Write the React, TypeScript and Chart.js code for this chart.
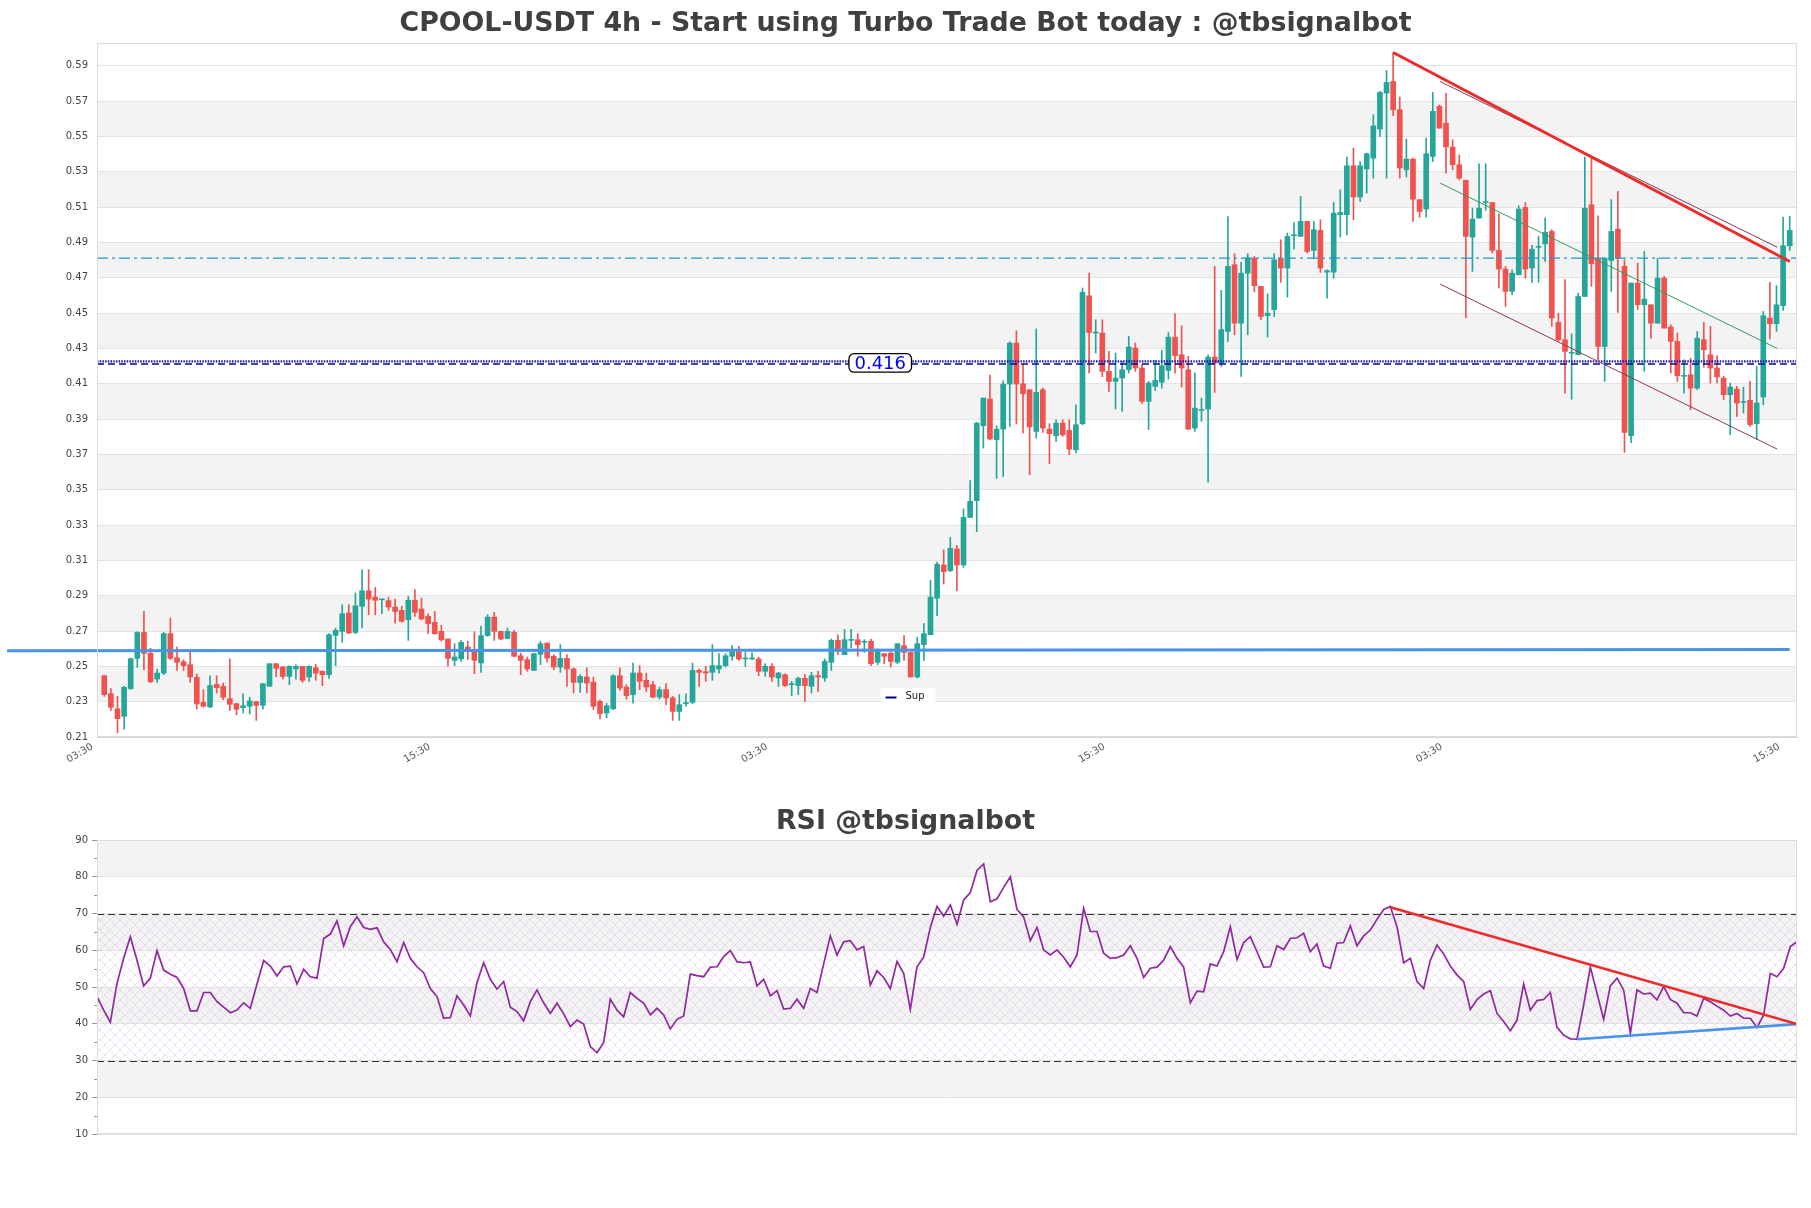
import React, { useEffect, useRef } from 'react';
import { Chart, registerables } from 'chart.js';

Chart.register(...registerables);

// ---------- candle data (4h) ----------
const OPEN = [
  0.2447, 0.2345, 0.2260, 0.2217, 0.2374, 0.2545, 0.2692, 0.2574, 0.2428, 0.2462,
  0.2685, 0.2549, 0.2526, 0.2509, 0.2438, 0.2296, 0.2270, 0.2398, 0.2387, 0.2317,
  0.2289, 0.2266, 0.2274, 0.2300, 0.2279, 0.2387, 0.2515, 0.2496, 0.2443, 0.2485,
  0.2500, 0.2440, 0.2492, 0.2472, 0.2453, 0.2675, 0.2698, 0.2802, 0.2692, 0.2840,
  0.2928, 0.2892, 0.2877, 0.2872, 0.2836, 0.2817, 0.2764, 0.2874, 0.2825, 0.2783,
  0.2749, 0.2698, 0.2655, 0.2534, 0.2542, 0.2609, 0.2591, 0.2519, 0.2674, 0.2779,
  0.2698, 0.2658, 0.2692, 0.2560, 0.2538, 0.2477, 0.2568, 0.2632, 0.2557, 0.2496,
  0.2545, 0.2485, 0.2409, 0.2440, 0.2411, 0.2302, 0.2236, 0.2260, 0.2447, 0.2383,
  0.2340, 0.2462, 0.2421, 0.2396, 0.2326, 0.2368, 0.2321, 0.2245, 0.2289, 0.2296,
  0.2477, 0.2470, 0.2466, 0.2485, 0.2504, 0.2557, 0.2583, 0.2542, 0.2542, 0.2542,
  0.2472, 0.2500, 0.2434, 0.2453, 0.2396, 0.2391, 0.2432, 0.2387, 0.2447, 0.2434,
  0.2523, 0.2647, 0.2566, 0.2647, 0.2651, 0.2636, 0.2642, 0.2523, 0.2572, 0.2575,
  0.2523, 0.2617, 0.2579, 0.2440, 0.2623, 0.2679, 0.2885, 0.3074, 0.3042, 0.3164,
  0.3074, 0.3343, 0.3438, 0.3862, 0.4013, 0.3783, 0.3843, 0.4098, 0.4330, 0.4100,
  0.4066, 0.3830, 0.4066, 0.3843, 0.3806, 0.3877, 0.3836, 0.3726, 0.3874, 0.4598,
  0.4387, 0.4387, 0.4170, 0.4113, 0.4132, 0.4179, 0.4302, 0.4189, 0.4000, 0.4085,
  0.4108, 0.4175, 0.4364, 0.4264, 0.4179, 0.3849, 0.3949, 0.3957, 0.4251, 0.4217,
  0.4396, 0.4774, 0.4443, 0.4726, 0.4811, 0.4651, 0.4485, 0.4519, 0.4811, 0.4755,
  0.4938, 0.4934, 0.5019, 0.4855, 0.4968, 0.4732, 0.4732, 0.5057, 0.5057, 0.5334,
  0.5157, 0.5315, 0.5377, 0.5542, 0.5745, 0.5811, 0.5651, 0.5311, 0.5372, 0.5142,
  0.5089, 0.5387, 0.5670, 0.5575, 0.5440, 0.5340, 0.5251, 0.4930, 0.5038, 0.5126,
  0.5126, 0.4855, 0.4749, 0.4623, 0.4717, 0.5098, 0.4755, 0.4872, 0.4892, 0.4962,
  0.4447, 0.4349, 0.4272, 0.4264, 0.4594, 0.5113, 0.4811, 0.4311, 0.4798, 0.4975,
  0.4764, 0.3806, 0.4670, 0.4547, 0.4547, 0.4443, 0.4698, 0.4421, 0.4340, 0.4142,
  0.4151, 0.4075, 0.4349, 0.4264, 0.4189, 0.4132, 0.4038, 0.4070, 0.3994, 0.4006,
  0.3874, 0.4025, 0.4472, 0.4440, 0.4542, 0.4881,
];
const HIGH = [
  0.2450, 0.2374, 0.2330, 0.2387, 0.2547, 0.2696, 0.2811, 0.2602, 0.2485, 0.2692,
  0.2774, 0.2609, 0.2538, 0.2579, 0.2457, 0.2368, 0.2447, 0.2447, 0.2406, 0.2543,
  0.2292, 0.2345, 0.2325, 0.2300, 0.2402, 0.2515, 0.2515, 0.2500, 0.2504, 0.2508,
  0.2500, 0.2504, 0.2511, 0.2474, 0.2685, 0.2717, 0.2849, 0.2849, 0.2915, 0.3047,
  0.3047, 0.2947, 0.2881, 0.2892, 0.2881, 0.2840, 0.2896, 0.2934, 0.2887, 0.2798,
  0.2811, 0.2732, 0.2655, 0.2628, 0.2647, 0.2642, 0.2696, 0.2726, 0.2792, 0.2806,
  0.2700, 0.2717, 0.2704, 0.2575, 0.2553, 0.2572, 0.2642, 0.2632, 0.2566, 0.2623,
  0.2566, 0.2491, 0.2453, 0.2491, 0.2440, 0.2311, 0.2292, 0.2453, 0.2491, 0.2396,
  0.2519, 0.2504, 0.2462, 0.2415, 0.2383, 0.2402, 0.2330, 0.2340, 0.2345, 0.2519,
  0.2485, 0.2500, 0.2623, 0.2572, 0.2572, 0.2617, 0.2613, 0.2579, 0.2576, 0.2553,
  0.2515, 0.2515, 0.2466, 0.2458, 0.2415, 0.2440, 0.2453, 0.2466, 0.2472, 0.2542,
  0.2655, 0.2679, 0.2709, 0.2709, 0.2685, 0.2651, 0.2655, 0.2598, 0.2572, 0.2579,
  0.2628, 0.2674, 0.2579, 0.2664, 0.2742, 0.2987, 0.3090, 0.3160, 0.3230, 0.3183,
  0.3391, 0.3551, 0.3881, 0.4019, 0.4149, 0.3862, 0.4117, 0.4338, 0.4400, 0.4208,
  0.4066, 0.4410, 0.4075, 0.3874, 0.3896, 0.3896, 0.3896, 0.3981, 0.4642, 0.4726,
  0.4462, 0.4462, 0.4283, 0.4274, 0.4226, 0.4368, 0.4330, 0.4208, 0.4113, 0.4232,
  0.4289, 0.4390, 0.4496, 0.4428, 0.4255, 0.4160, 0.4019, 0.4264, 0.4764, 0.4628,
  0.5047, 0.4836, 0.4787, 0.4836, 0.4821, 0.4651, 0.4609, 0.4836, 0.4915, 0.4953,
  0.5013, 0.5160, 0.5019, 0.5019, 0.5028, 0.4745, 0.5126, 0.5198, 0.5383, 0.5434,
  0.5358, 0.5406, 0.5623, 0.5755, 0.5874, 0.5975, 0.5723, 0.5485, 0.5377, 0.5142,
  0.5491, 0.5749, 0.5679, 0.5745, 0.5481, 0.5396, 0.5255, 0.5094, 0.5345, 0.5345,
  0.5126, 0.5062, 0.4764, 0.4745, 0.5108, 0.5126, 0.4883, 0.4934, 0.5038, 0.4972,
  0.4500, 0.4689, 0.4383, 0.4613, 0.5383, 0.5377, 0.5051, 0.4811, 0.5142, 0.5189,
  0.4802, 0.4670, 0.4783, 0.4849, 0.4547, 0.4811, 0.4708, 0.4434, 0.4387, 0.4236,
  0.4245, 0.4396, 0.4447, 0.4425, 0.4258, 0.4142, 0.4104, 0.4085, 0.4081, 0.4113,
  0.4198, 0.4509, 0.4674, 0.4655, 0.5043, 0.5047,
];
const LOW = [
  0.2330, 0.2251, 0.2123, 0.2145, 0.2370, 0.2494, 0.2481, 0.2408, 0.2409, 0.2453,
  0.2538, 0.2477, 0.2477, 0.2409, 0.2258, 0.2270, 0.2266, 0.2349, 0.2311, 0.2251,
  0.2225, 0.2236, 0.2230, 0.2194, 0.2258, 0.2387, 0.2440, 0.2428, 0.2396, 0.2428,
  0.2409, 0.2415, 0.2421, 0.2391, 0.2432, 0.2504, 0.2636, 0.2685, 0.2685, 0.2717,
  0.2792, 0.2792, 0.2798, 0.2817, 0.2745, 0.2749, 0.2647, 0.2783, 0.2764, 0.2685,
  0.2681, 0.2642, 0.2500, 0.2504, 0.2528, 0.2538, 0.2458, 0.2466, 0.2670, 0.2647,
  0.2651, 0.2655, 0.2553, 0.2453, 0.2472, 0.2477, 0.2509, 0.2523, 0.2481, 0.2466,
  0.2387, 0.2349, 0.2353, 0.2349, 0.2255, 0.2202, 0.2208, 0.2255, 0.2364, 0.2315,
  0.2292, 0.2368, 0.2358, 0.2321, 0.2315, 0.2283, 0.2194, 0.2194, 0.2274, 0.2289,
  0.2387, 0.2415, 0.2421, 0.2462, 0.2496, 0.2534, 0.2534, 0.2500, 0.2538, 0.2447,
  0.2443, 0.2415, 0.2387, 0.2387, 0.2334, 0.2340, 0.2302, 0.2349, 0.2358, 0.2415,
  0.2477, 0.2566, 0.2566, 0.2604, 0.2557, 0.2579, 0.2504, 0.2509, 0.2515, 0.2496,
  0.2515, 0.2534, 0.2440, 0.2434, 0.2534, 0.2679, 0.2787, 0.2966, 0.3036, 0.2928,
  0.3060, 0.3343, 0.3262, 0.3736, 0.3783, 0.3564, 0.3575, 0.3858, 0.3872, 0.3821,
  0.3585, 0.3792, 0.3825, 0.3647, 0.3774, 0.3802, 0.3698, 0.3708, 0.3868, 0.4160,
  0.4274, 0.4140, 0.4057, 0.3957, 0.3943, 0.4160, 0.4170, 0.3987, 0.3840, 0.4062,
  0.4075, 0.4126, 0.4160, 0.4081, 0.3840, 0.3830, 0.3887, 0.3542, 0.4051, 0.4198,
  0.4340, 0.4377, 0.4142, 0.4377, 0.4620, 0.4462, 0.4364, 0.4480, 0.4674, 0.4590,
  0.4862, 0.4934, 0.4840, 0.4811, 0.4730, 0.4585, 0.4698, 0.4930, 0.4943, 0.5028,
  0.5132, 0.5179, 0.5264, 0.5500, 0.5264, 0.5617, 0.5264, 0.5270, 0.5019, 0.5043,
  0.5043, 0.5358, 0.5547, 0.5292, 0.5311, 0.5255, 0.4472, 0.4736, 0.5038, 0.5081,
  0.4840, 0.4642, 0.4538, 0.4604, 0.4717, 0.4698, 0.4674, 0.4674, 0.4792, 0.4425,
  0.4340, 0.4047, 0.4013, 0.4264, 0.4594, 0.4651, 0.4236, 0.4113, 0.4623, 0.4504,
  0.3711, 0.3766, 0.4519, 0.4170, 0.4358, 0.4443, 0.4415, 0.4160, 0.4113, 0.4047,
  0.3953, 0.4066, 0.4194, 0.4104, 0.4104, 0.4009, 0.3811, 0.3915, 0.3934, 0.3858,
  0.3783, 0.3981, 0.4353, 0.4396, 0.4515, 0.4855,
];
const CLOSE = [
  0.2340, 0.2268, 0.2204, 0.2381, 0.2543, 0.2692, 0.2574, 0.2413, 0.2462, 0.2685,
  0.2545, 0.2523, 0.2504, 0.2440, 0.2287, 0.2274, 0.2391, 0.2379, 0.2325, 0.2285,
  0.2257, 0.2277, 0.2304, 0.2279, 0.2402, 0.2515, 0.2489, 0.2443, 0.2500, 0.2500,
  0.2421, 0.2500, 0.2462, 0.2453, 0.2679, 0.2704, 0.2798, 0.2689, 0.2843, 0.2928,
  0.2881, 0.2874, 0.2881, 0.2836, 0.2811, 0.2755, 0.2874, 0.2806, 0.2768, 0.2742,
  0.2685, 0.2651, 0.2545, 0.2553, 0.2636, 0.2587, 0.2534, 0.2674, 0.2779, 0.2698,
  0.2655, 0.2698, 0.2557, 0.2534, 0.2485, 0.2572, 0.2628, 0.2547, 0.2496, 0.2545,
  0.2485, 0.2409, 0.2443, 0.2406, 0.2274, 0.2232, 0.2277, 0.2447, 0.2377, 0.2334,
  0.2462, 0.2415, 0.2383, 0.2326, 0.2368, 0.2321, 0.2245, 0.2283, 0.2292, 0.2477,
  0.2466, 0.2462, 0.2504, 0.2504, 0.2560, 0.2583, 0.2542, 0.2543, 0.2545, 0.2472,
  0.2500, 0.2440, 0.2462, 0.2391, 0.2402, 0.2432, 0.2391, 0.2447, 0.2440, 0.2528,
  0.2647, 0.2585, 0.2651, 0.2651, 0.2623, 0.2642, 0.2515, 0.2585, 0.2557, 0.2528,
  0.2628, 0.2579, 0.2440, 0.2628, 0.2685, 0.2892, 0.3078, 0.3036, 0.3168, 0.3074,
  0.3343, 0.3434, 0.3877, 0.4019, 0.3787, 0.3843, 0.4098, 0.4330, 0.4098, 0.4043,
  0.3855, 0.4051, 0.3849, 0.3817, 0.3877, 0.3811, 0.3730, 0.3868, 0.4617, 0.4390,
  0.4390, 0.4170, 0.4113, 0.4132, 0.4179, 0.4308, 0.4189, 0.4000, 0.4104, 0.4119,
  0.4202, 0.4364, 0.4258, 0.4189, 0.3843, 0.3962, 0.3953, 0.4251, 0.4217, 0.4406,
  0.4764, 0.4443, 0.4726, 0.4811, 0.4655, 0.4481, 0.4500, 0.4802, 0.4755, 0.4934,
  0.4943, 0.5019, 0.4849, 0.4972, 0.4755, 0.4740, 0.5066, 0.5070, 0.5334, 0.5157,
  0.5334, 0.5402, 0.5560, 0.5749, 0.5806, 0.5651, 0.5321, 0.5372, 0.5145, 0.5075,
  0.5402, 0.5642, 0.5547, 0.5440, 0.5340, 0.5264, 0.4934, 0.5032, 0.5094, 0.5130,
  0.4855, 0.4749, 0.4623, 0.4726, 0.5089, 0.4749, 0.4862, 0.4877, 0.4957, 0.4472,
  0.4349, 0.4283, 0.4276, 0.4594, 0.5094, 0.4779, 0.4311, 0.4811, 0.4962, 0.4811,
  0.3825, 0.4670, 0.4547, 0.4579, 0.4443, 0.4698, 0.4415, 0.4340, 0.4145, 0.4145,
  0.4075, 0.4358, 0.4292, 0.4189, 0.4138, 0.4038, 0.4081, 0.3991, 0.3998, 0.3868,
  0.3991, 0.4485, 0.4440, 0.4547, 0.4881, 0.4968,
];

// ---------- RSI ----------
const RSI = [
  47.4, 43.7, 40.4, 51.0, 57.8, 63.7, 57.3, 50.3, 52.4, 59.9,
  54.6, 53.5, 52.6, 49.6, 43.5, 43.5, 48.5, 48.5, 46.0, 44.5,
  43.0, 43.7, 45.7, 44.2, 50.8, 57.2, 55.7, 53.0, 55.5, 55.7,
  50.8, 54.8, 52.8, 52.4, 63.2, 64.4, 68.0, 61.2, 66.4, 69.1,
  66.2, 65.7, 66.1, 62.3, 60.2, 56.9, 62.1, 57.8, 55.5, 53.9,
  49.6, 47.4, 41.5, 41.7, 47.6, 45.1, 42.1, 51.2, 56.6, 52.1,
  49.4, 51.5, 44.5, 43.3, 40.8, 46.0, 49.2, 45.7, 42.8, 45.6,
  42.7, 39.2, 41.0, 39.9, 33.8, 32.1, 34.9, 46.7, 43.7, 41.9,
  48.5, 46.9, 45.6, 42.4, 44.2, 42.4, 38.6, 41.2, 42.1, 53.5,
  53.1, 52.8, 55.4, 55.5, 58.3, 59.9, 56.9, 56.6, 56.8, 50.3,
  52.1, 47.6, 49.0, 44.0, 44.2, 46.7, 44.2, 49.6, 48.5, 56.3,
  63.9, 58.7, 62.3, 62.6, 60.1, 61.0, 50.5, 54.4, 52.6, 49.6,
  56.9, 53.7, 43.9, 55.5, 58.1, 66.2, 71.9, 69.3, 72.3, 67.1,
  73.7, 75.7, 81.7, 83.5, 73.2, 74.0, 77.1, 80.0, 71.1, 69.1,
  62.6, 66.2, 60.1, 58.7, 60.1, 58.1, 55.5, 58.7, 71.4, 65.1,
  65.1, 59.2, 57.8, 58.0, 58.7, 61.2, 57.8, 52.6, 55.1, 55.4,
  57.3, 61.0, 57.8, 55.4, 45.7, 48.9, 48.7, 56.3, 55.7, 59.6,
  66.4, 57.5, 62.1, 63.7, 59.6, 55.4, 55.5, 61.2, 60.2, 63.2,
  63.4, 64.6, 59.6, 61.7, 55.7, 55.1, 61.9, 62.1, 66.7, 61.2,
  63.9, 65.5, 68.4, 71.1, 71.9, 66.4, 56.6, 57.8, 51.5, 49.6,
  57.3, 61.4, 59.0, 55.7, 53.3, 51.5, 43.9, 46.6, 48.1, 49.0,
  42.8, 40.6, 38.1, 41.0, 50.8, 43.7, 46.3, 46.6, 48.5, 39.0,
  36.9, 35.9, 35.8, 45.1, 55.4, 48.3, 41.2, 50.3, 52.4, 49.2,
  37.4, 49.2, 48.1, 48.3, 46.5, 50.1, 46.6, 45.6, 43.0, 43.0,
  42.1, 46.9, 46.0, 44.8, 43.7, 42.1, 42.8, 41.5, 41.5, 39.0,
  42.4, 53.7, 52.8, 55.1, 61.0, 62.3,
];

// ---------- axes ----------
const X_TICK_POS = [-1.8, 49.24, 100.28, 151.32, 202.36, 253.4];
const X_TICK_LABELS = ['03:30', '15:30', '03:30', '15:30', '03:30', '15:30'];
const Y_TICKS = [0.21, 0.23, 0.25, 0.27, 0.29, 0.31, 0.33, 0.35, 0.37, 0.39, 0.41, 0.43, 0.45, 0.47, 0.49, 0.51, 0.53, 0.55, 0.57, 0.59];
const Y_BANDS = [0.23, 0.27, 0.31, 0.35, 0.39, 0.43, 0.47, 0.51, 0.55];
const RSI_TICKS = [10, 20, 30, 40, 50, 60, 70, 80, 90];
const RSI_MINOR = [15, 25, 35, 45, 55, 65, 75, 85];
const RSI_BANDS = [20, 40, 60, 80];
const RSI_LEVELS = [30, 70];

// ---------- overlays ----------
const SUP_LINE: [number, number][] = [[-14.7, 0.2588], [255, 0.2596]];
const PIVOT_DOTTED = 0.4226;
const PIVOT_DASHED = 0.4212;
const PIVOT_LABEL = '0.416';
const PIVOT_LABEL_X = 117.4;
const CYAN_LEVEL = 0.4811;
const TREND_MAIN: [number, number][] = [[195, 0.5975], [255, 0.4792]];
const CHANNEL_UPPER: [number, number][] = [[202.1, 0.5811], [253.1, 0.4873]];
const CHANNEL_MID: [number, number][] = [[202.1, 0.5236], [253.1, 0.4300]];
const CHANNEL_LOWER: [number, number][] = [[202.1, 0.4664], [253.1, 0.3730]];
const RSI_TREND_RED: [number, number][] = [[194, 71.7], [255, 39.9]];
const RSI_TREND_BLUE: [number, number][] = [[222, 35.8], [255, 39.9]];

const TITLE = 'CPOOL-USDT 4h - Start using Turbo Trade Bot today : @tbsignalbot';
const RSI_TITLE = 'RSI @tbsignalbot';
const LEGEND_LABEL = 'Sup';

const UP = '#26a69a';
const DOWN = '#ef5350';
const X_MIN = -1.1;
const X_MAX = 256.1;

function lineDs(pts: [number, number][], color: string, width: number, dash: number[] = [], extra: any = {}) {
  return {
    type: 'line',
    data: pts.map(([x, y]) => ({ x, y })),
    borderColor: color,
    backgroundColor: color,
    borderWidth: width,
    borderDash: dash,
    pointRadius: 0,
    fill: false,
    tension: 0,
    order: 1,
    ...extra,
  };
}

function roundRect(ctx: CanvasRenderingContext2D, x: number, y: number, w: number, h: number, r: number) {
  ctx.beginPath();
  ctx.moveTo(x + r, y);
  ctx.lineTo(x + w - r, y);
  ctx.arcTo(x + w, y, x + w, y + r, r);
  ctx.lineTo(x + w, y + h - r);
  ctx.arcTo(x + w, y + h, x + w - r, y + h, r);
  ctx.lineTo(x + r, y + h);
  ctx.arcTo(x, y + h, x, y + h - r, r);
  ctx.lineTo(x, y + r);
  ctx.arcTo(x, y, x + r, y, r);
  ctx.closePath();
}

export default function App() {
  const mainRef = useRef<HTMLCanvasElement>(null);
  const rsiRef = useRef<HTMLCanvasElement>(null);

  useEffect(() => {
    document.body.style.margin = '0';
    Chart.defaults.font.family = '"DejaVu Sans", sans-serif';

    const idx = OPEN.map((_, i) => i);
    const colors = idx.map((i) => (CLOSE[i] >= OPEN[i] ? UP : DOWN));
    const bodies = idx.map((i) => ({ x: i, y: [OPEN[i], CLOSE[i]] }));
    const wicks = idx.map((i) => ({ x: i, y: [LOW[i], HIGH[i]] }));

    const mainPlugin = {
      id: 'mainDecor',
      beforeDraw(chart: any) {
        const { ctx, chartArea: a, scales } = chart;
        const y = scales.y;
        ctx.save();
        ctx.fillStyle = '#f3f3f3';
        Y_BANDS.forEach((v) => {
          const p1 = y.getPixelForValue(v);
          const p2 = y.getPixelForValue(v + 0.02);
          ctx.fillRect(a.left, p2, a.right - a.left, p1 - p2);
        });
        ctx.restore();
      },
      afterDraw(chart: any) {
        const { ctx, chartArea: a, scales } = chart;
        ctx.save();
        // frame
        ctx.strokeStyle = '#dcdcdc';
        ctx.lineWidth = 1;
        ctx.strokeRect(a.left + 0.5, a.top + 0.5, a.right - a.left - 1, a.bottom - a.top - 1);
        // title
        ctx.fillStyle = '#404040';
        ctx.font = 'bold 26.8px "DejaVu Sans"';
        ctx.textAlign = 'center';
        ctx.textBaseline = 'middle';
        ctx.fillText(TITLE, chart.width / 2, 24);
        // pivot label
        const lx = scales.x.getPixelForValue(PIVOT_LABEL_X);
        const ly = scales.y.getPixelForValue(PIVOT_DOTTED) + 1.5;
        ctx.font = '18px "DejaVu Sans"';
        const tw = ctx.measureText(PIVOT_LABEL).width;
        const bw = tw + 11;
        const bh = 18.5;
        roundRect(ctx, lx - bw / 2, ly - bh / 2, bw, bh, 5);
        ctx.fillStyle = '#ffffff';
        ctx.fill();
        ctx.strokeStyle = '#000000';
        ctx.lineWidth = 1.3;
        ctx.stroke();
        ctx.fillStyle = '#0000ee';
        ctx.fillText(PIVOT_LABEL, lx, ly + 1);
        // legend
        const cx = chart.width / 2 + 2;
        const by = a.bottom - 49;
        ctx.fillStyle = 'rgba(255,255,255,0.9)';
        ctx.fillRect(cx - 27, by, 55, 15.5);
        ctx.strokeStyle = '#00008b';
        ctx.lineWidth = 2;
        ctx.beginPath();
        ctx.moveTo(cx - 22, by + 9.5);
        ctx.lineTo(cx - 11, by + 9.5);
        ctx.stroke();
        ctx.fillStyle = '#222';
        ctx.font = '10px "DejaVu Sans"';
        ctx.textAlign = 'left';
        ctx.fillText(LEGEND_LABEL, cx - 2, by + 8.5);
        ctx.restore();
      },
    };

    const main = new Chart(mainRef.current as HTMLCanvasElement, {
      type: 'bar',
      data: {
        datasets: [
          lineDs(SUP_LINE, '#4a94e8', 3, [], { clip: false }),
          lineDs(TREND_MAIN, '#ee2a2a', 3),
          lineDs(CHANNEL_UPPER, '#8c3a55', 1),
          lineDs(CHANNEL_MID, '#2f9e5e', 1),
          lineDs(CHANNEL_LOWER, '#8c3a55', 1),
          lineDs([[X_MIN, CYAN_LEVEL], [X_MAX, CYAN_LEVEL]], '#1f98d6', 1.3, [11, 4, 3, 4]),
          lineDs([[X_MIN, PIVOT_DOTTED], [X_MAX, PIVOT_DOTTED]], '#1515c8', 2.2, [1.5, 1.2]),
          lineDs([[X_MIN, PIVOT_DASHED], [X_MAX, PIVOT_DASHED]], '#0a0a80', 1.4, [7, 4]),
          {
            type: 'bar',
            data: bodies,
            backgroundColor: colors,
            borderWidth: 0,
            barThickness: 5,
            minBarLength: 1,
            grouped: false,
            order: 2,
          },
          {
            type: 'bar',
            data: wicks,
            backgroundColor: colors,
            borderWidth: 0,
            barThickness: 1,
            grouped: false,
            order: 3,
          },
        ] as any,
      },
      options: {
        responsive: false,
        animation: false,
        events: [],
        layout: { padding: { top: 43, right: 14, bottom: 23, left: 0 } },
        plugins: { legend: { display: false }, tooltip: { enabled: false }, title: { display: false } },
        scales: {
          x: {
            type: 'linear',
            min: X_MIN,
            max: X_MAX,
            offset: false,
            grid: { display: false, drawTicks: false, offset: false },
            border: { display: true, color: '#d6d6d6' },
            afterBuildTicks: (s: any) => {
              s.ticks = X_TICK_POS.map((v) => ({ value: v }));
            },
            afterFit: (s: any) => {
              s.height = 40;
            },
            ticks: {
              autoSkip: false,
              minRotation: 30,
              maxRotation: 30,
              padding: 4,
              color: '#555',
              font: { size: 10 },
              callback: (_v: any, i: number) => X_TICK_LABELS[i],
            },
          },
          y: {
            type: 'linear',
            min: 0.21,
            max: 0.6029,
            afterBuildTicks: (s: any) => {
              s.ticks = Y_TICKS.map((v) => ({ value: v }));
            },
            afterFit: (s: any) => {
              s.width = 97;
            },
            grid: { color: '#e3e3e3', drawTicks: false },
            border: { display: true, color: '#d6d6d6' },
            ticks: {
              padding: 9,
              color: '#444',
              font: { size: 10 },
              callback: (v: any) => Number(v).toFixed(2),
            },
          },
        },
      } as any,
      plugins: [mainPlugin],
    });

    // hatch pattern for RSI zone
    const tile = document.createElement('canvas');
    tile.width = 10;
    tile.height = 10;
    const tctx = tile.getContext('2d') as CanvasRenderingContext2D;
    tctx.strokeStyle = 'rgba(205,170,215,0.5)';
    tctx.lineWidth = 0.7;
    tctx.beginPath();
    tctx.moveTo(0, 0);
    tctx.lineTo(10, 10);
    tctx.moveTo(10, 0);
    tctx.lineTo(0, 10);
    tctx.stroke();

    const rsiPlugin = {
      id: 'rsiDecor',
      beforeDraw(chart: any) {
        const { ctx, chartArea: a, scales } = chart;
        const y = scales.y;
        ctx.save();
        ctx.fillStyle = '#f3f3f3';
        RSI_BANDS.forEach((v) => {
          const p1 = y.getPixelForValue(v);
          const p2 = y.getPixelForValue(v + 10);
          ctx.fillRect(a.left, p2, a.right - a.left, p1 - p2);
        });
        ctx.restore();
      },
      beforeDatasetsDraw(chart: any) {
        const { ctx, chartArea: a, scales } = chart;
        const y = scales.y;
        ctx.save();
        const pat = ctx.createPattern(tile, 'repeat');
        if (pat) {
          ctx.fillStyle = pat;
          const t = y.getPixelForValue(RSI_LEVELS[1]);
          const b = y.getPixelForValue(RSI_LEVELS[0]);
          ctx.fillRect(a.left, t, a.right - a.left, b - t);
        }
        ctx.strokeStyle = '#333';
        ctx.lineWidth = 1.2;
        ctx.setLineDash([7, 4]);
        RSI_LEVELS.forEach((v) => {
          const p = Math.round(y.getPixelForValue(v)) + 0.5;
          ctx.beginPath();
          ctx.moveTo(a.left, p);
          ctx.lineTo(a.right, p);
          ctx.stroke();
        });
        ctx.setLineDash([]);
        ctx.strokeStyle = '#999';
        ctx.lineWidth = 1;
        RSI_MINOR.forEach((v) => {
          const p = Math.round(y.getPixelForValue(v)) + 0.5;
          ctx.beginPath();
          ctx.moveTo(a.left - 3, p);
          ctx.lineTo(a.left, p);
          ctx.stroke();
        });
        ctx.restore();
      },
      afterDraw(chart: any) {
        const { ctx, chartArea: a } = chart;
        ctx.save();
        ctx.strokeStyle = '#dcdcdc';
        ctx.lineWidth = 1;
        ctx.strokeRect(a.left + 0.5, a.top + 0.5, a.right - a.left - 1, a.bottom - a.top - 1);
        ctx.fillStyle = '#404040';
        ctx.font = 'bold 26.8px "DejaVu Sans"';
        ctx.textAlign = 'center';
        ctx.textBaseline = 'middle';
        ctx.fillText(RSI_TITLE, chart.width / 2, 22.5);
        ctx.restore();
      },
    };

    const rsi = new Chart(rsiRef.current as HTMLCanvasElement, {
      type: 'line',
      data: {
        datasets: [
          lineDs(RSI_TREND_RED, '#ee2a2a', 2.6),
          lineDs(RSI_TREND_BLUE, '#4a94e8', 2.6),
          {
            type: 'line',
            data: RSI.map((v, i) => ({ x: i, y: v })),
            borderColor: '#8e2a9e',
            borderWidth: 1.7,
            pointRadius: 0,
            tension: 0,
            fill: false,
            order: 2,
          },
        ] as any,
      },
      options: {
        responsive: false,
        animation: false,
        events: [],
        layout: { padding: { top: 40, right: 14, bottom: 74, left: 0 } },
        plugins: { legend: { display: false }, tooltip: { enabled: false }, title: { display: false } },
        scales: {
          x: { type: 'linear', min: 0, max: RSI.length - 1, display: false },
          y: {
            type: 'linear',
            min: 10,
            max: 90,
            afterBuildTicks: (s: any) => {
              s.ticks = RSI_TICKS.map((v) => ({ value: v }));
            },
            afterFit: (s: any) => {
              s.width = 97;
            },
            grid: { color: '#e3e3e3', drawTicks: true, tickLength: 5, tickColor: '#999' },
            border: { display: true, color: '#d6d6d6' },
            ticks: { padding: 4, color: '#444', font: { size: 10 } },
          },
        },
      } as any,
      plugins: [rsiPlugin],
    });

    return () => {
      main.destroy();
      rsi.destroy();
    };
  }, []);

  return (
    <div style={{ position: 'relative', width: 1811, height: 1208, background: '#ffffff' }}>
      <canvas ref={mainRef} width={1811} height={800} style={{ display: 'block', width: 1811, height: 800 }} />
      <canvas ref={rsiRef} width={1811} height={408} style={{ display: 'block', width: 1811, height: 408 }} />
    </div>
  );
}
